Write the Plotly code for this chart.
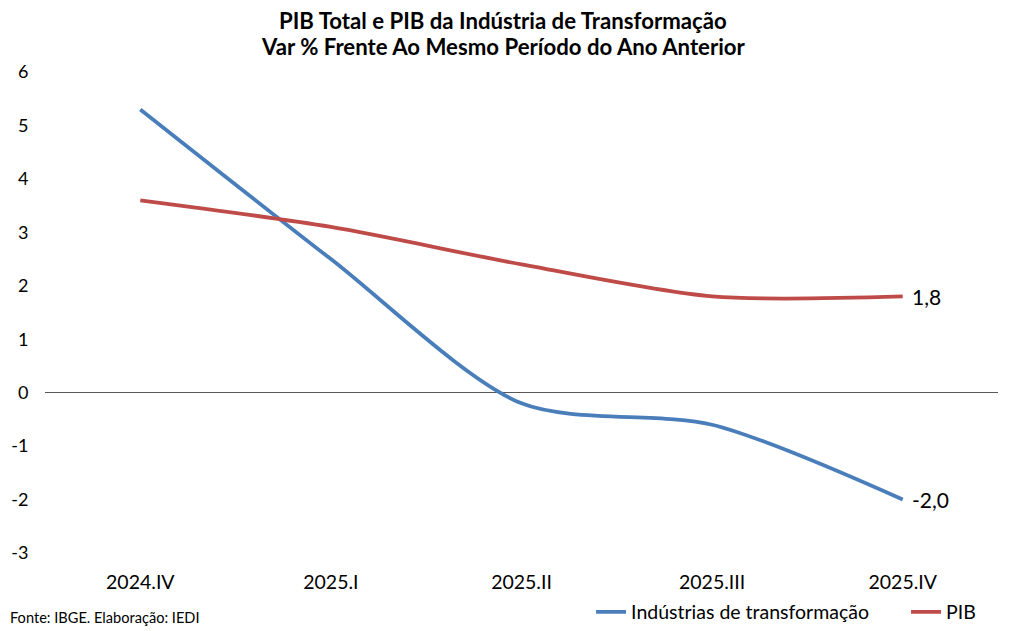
import plotly.graph_objects as go

categories = ["2024.IV", "2025.I", "2025.II", "2025.III", "2025.IV"]
industria = [5.3, 2.5, -0.2, -0.6, -2.0]
pib = [3.6, 3.1, 2.4, 1.8, 1.8]
y_ticks = [6, 5, 4, 3, 2, 1, 0, -1, -2, -3]
y_ticklabels = ["6", "5", "4", "3", "2", "1", "0", "-1", "-2", "-3"]

FONT = "Lato"
BLUE = "#4A7EBB"
RED = "#BE4B48"

fig = go.Figure()
fig.add_trace(go.Scatter(x=categories, y=industria, name="Indústrias de transformação",
                         mode="lines", legend="legend",
                         line=dict(color=BLUE, width=3.8, shape="spline", smoothing=0.8)))
fig.add_trace(go.Scatter(x=categories, y=pib, name="PIB",
                         mode="lines", legend="legend2",
                         line=dict(color=RED, width=3.8, shape="spline", smoothing=0.8)))

def fmt(v):
    return f"{v:.1f}".replace(".", ",")

for series in (industria, pib):
    fig.add_annotation(x=categories[-1], y=series[-1], text=fmt(series[-1]), showarrow=False,
                       xanchor="left", yanchor="middle", xshift=7,
                       font=dict(family=FONT, size=21, color="#000000"))

fig.add_annotation(xref="paper", yref="paper", x=-0.0385, y=-0.135, xanchor="left", yanchor="middle",
                   text="Fonte: IBGE. Elaboração: IEDI", showarrow=False,
                   font=dict(family=FONT, size=14.6, color="#000000"))

fig.add_annotation(xref="paper", yref="paper", x=0.481, y=1.108, xanchor="center", yanchor="middle",
                   text="<b>PIB Total e PIB da Indústria de Transformação</b>", showarrow=False,
                   font=dict(family=FONT, size=22.2, color="#000000"))
fig.add_annotation(xref="paper", yref="paper", x=0.481, y=1.053, xanchor="center", yanchor="middle",
                   text="<b>Var % Frente Ao Mesmo Período do Ano Anterior</b>", showarrow=False,
                   font=dict(family=FONT, size=22.2, color="#000000"))

legend_common = dict(orientation="h", xanchor="left", y=-0.123, yanchor="middle",
                     font=dict(family=FONT, size=19.5, color="#000000"), itemwidth=30,
                     bgcolor="rgba(0,0,0,0)")

fig.update_layout(
    width=1005, height=623,
    margin=dict(l=37, r=15, t=64, b=78, autoexpand=False),
    paper_bgcolor="white", plot_bgcolor="white",
    font=dict(family=FONT, size=16, color="#000000"),
    showlegend=True,
    legend=dict(x=0.573, **legend_common),
    legend2=dict(x=0.9035, **legend_common),
    xaxis=dict(type="category", range=[-0.5, 4.5], showgrid=False, showline=False, zeroline=False,
               automargin=False, ticks="outside", ticklen=12, tickcolor="rgba(0,0,0,0)",
               tickfont=dict(family=FONT, size=19.5)),
    yaxis=dict(range=[-3, 6], tickvals=y_ticks, ticktext=y_ticklabels, showgrid=False, showline=False,
               zeroline=True, zerolinecolor="#595959", zerolinewidth=1, automargin=False,
               ticks="outside", ticklen=12, tickcolor="rgba(0,0,0,0)",
               tickfont=dict(family=FONT, size=18)),
)

fig.write_html("out.html")
